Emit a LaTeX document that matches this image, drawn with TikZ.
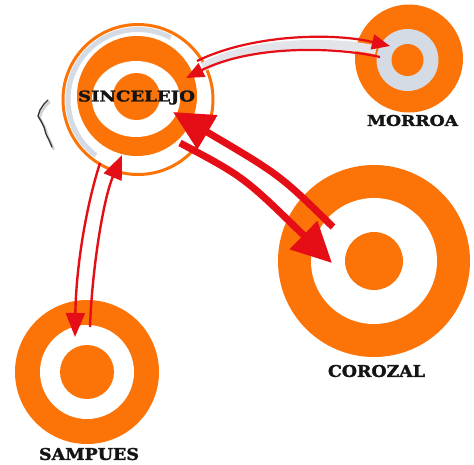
\documentclass[tikz,border=0pt]{standalone}
\usepackage{fontspec}
\setmainfont{DejaVu Serif}
\newfontfamily\lblfont{DejaVu Serif}[UprightFont={* Bold},FakeBold=1.6]
\usetikzlibrary{arrows.meta}
\definecolor{orng}{RGB}{252,116,8}
\definecolor{arrred}{RGB}{230,14,22}
\definecolor{ltgray}{RGB}{212,219,228}
\definecolor{bandgray}{RGB}{226,228,233}
\begin{document}
\begin{tikzpicture}[x=1pt,y=-1pt,
  disc/.style={circle,inner sep=0pt,outer sep=0pt,minimum size=#1},
  city/.style={inner sep=0pt,text=black!92,font=\lblfont},
  thinarrow/.style={draw=arrred,line width=2.2pt,-{Triangle[length=18pt,width=15pt]}},
  vertarrow/.style={draw=arrred,line width=2.4pt,-{Triangle[length=24pt,width=19pt]}},
  thickarrow/.style={draw=arrred,line width=7pt,-{Triangle[length=40pt,width=38pt]}},
  band/.style={draw=bandgray,line width=9pt}
]
\useasboundingbox[fill=white] (0,0) rectangle (474,464);

% Sincelejo
\draw[orng,line width=3pt] (138,99.5) circle[radius=75];
\draw[ltgray,line width=5pt] (138,99.5) ++(-62:70) arc[start angle=-62,end angle=-233,radius=70];
\node[disc=120pt,fill=orng] (sinc) at (137,96) {};
\fill[white] (136,99) ellipse[x radius=44,y radius=38];
\fill[orng] (136.5,96.5) circle[radius=23.5];

% Morroa
\node[disc=108pt,fill=orng] (morr) at (409,58.5) {};
\fill[ltgray] (407.5,60) circle[radius=31];
\fill[orng] (407.5,60) circle[radius=16];

% Corozal
\node[disc=192pt,fill=orng] (coro) at (374,261) {};
\fill[white] (coro.center) circle[radius=63];
\fill[orng] (coro.center) circle[radius=29];

% Sampues
\node[disc=144pt,fill=orng] (samp) at (87,372) {};
\fill[white] (samp.center) circle[radius=47];
\fill[orng] (samp.center) circle[radius=27];

% squiggle
\draw[gray!35,line width=2.6pt,line cap=round,line join=round]
  (49.5,102) -- (45.5,106) -- (41.5,112) -- (39.5,118) -- (42.5,123) -- (45.5,129) -- (47.5,136) -- (50.5,142) -- (53.5,149);
\draw[black!80,line width=1.3pt,line cap=round,line join=round]
  (48,100) -- (44,104) -- (40,110) -- (38,116) -- (41,121) -- (44,127) -- (46,134) -- (49,140) -- (52,147);

% Sincelejo <-> Morroa
\coordinate (sm1) at (197,61);
\coordinate (ms1) at (390,46);
\coordinate (ms2) at (380,57);
\coordinate (sm2) at (186,78);
\draw[band] (203,67) .. controls (250,42) and (330,40) .. (376,50);
\draw[thinarrow] (sm1) .. controls (250,35) and (330,32) .. (ms1);
\draw[thinarrow] (ms2) .. controls (330,46) and (250,46) .. (sm2);

% Sincelejo <-> Corozal
\coordinate (ca) at (333,227);
\coordinate (ac) at (173,112);
\coordinate (cb) at (180,143);
\coordinate (bc) at (332,263);
\draw[thickarrow] (ca) .. controls (280,175) .. (ac);
\draw[thickarrow] (cb) .. controls (244,177) .. (bc);

% Sincelejo <-> Sampues
\coordinate (ss1) at (100,163);
\coordinate (ss2) at (75,337);
\coordinate (ss3) at (90,327);
\coordinate (ss4) at (122,155);
\draw[vertarrow] (ss1) .. controls (85,210) and (76,270) .. (ss2);
\draw[vertarrow] (ss3) .. controls (92,270) and (103,200) .. (ss4);

% labels
\node[city] (lsinc) at (136.5,97.5) {\resizebox{117pt}{11pt}{SINCELEJO}};
\node[city] (lmorr) at (412.5,120.5) {\resizebox{91pt}{11pt}{MORROA}};
\node[city] (lcoro) at (376.5,371) {\resizebox{97pt}{12pt}{COROZAL}};
\node[city] (lsamp) at (89,454) {\resizebox{100pt}{12pt}{SAMPUES}};
\end{tikzpicture}
\end{document}
